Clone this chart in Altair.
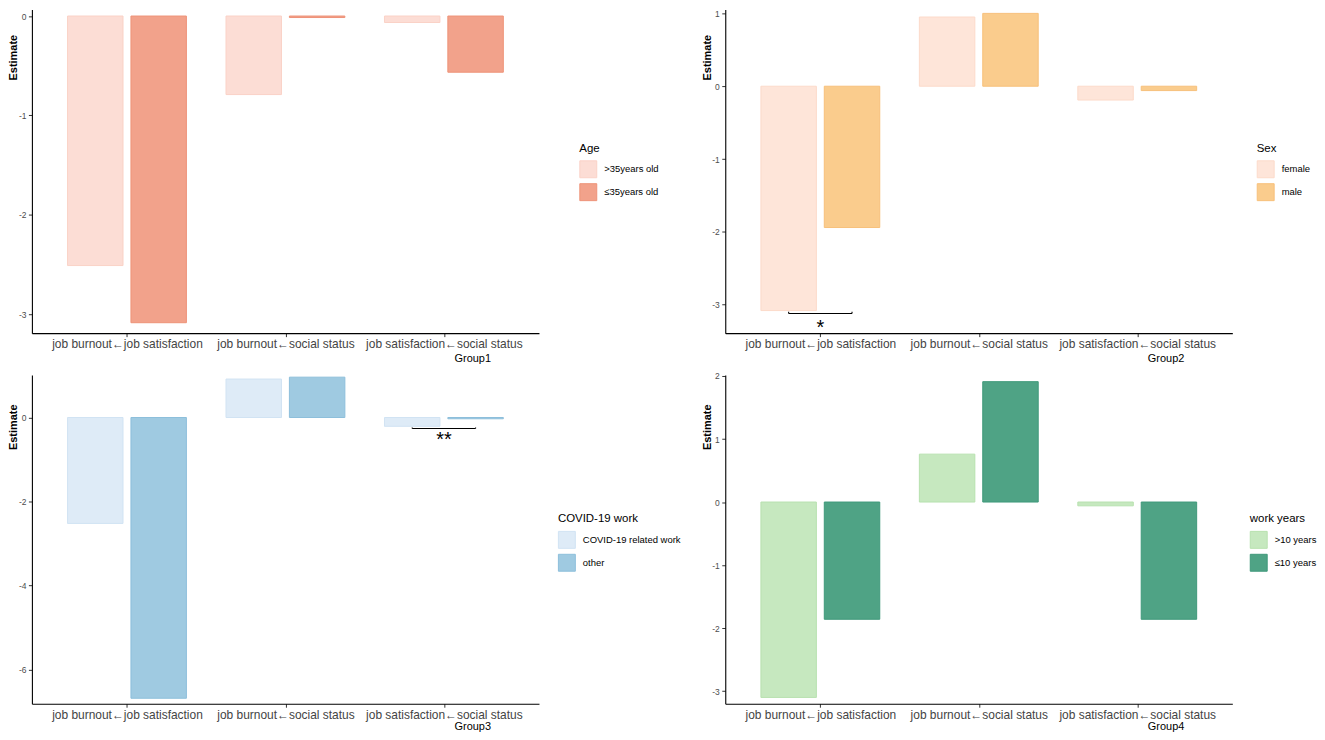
import json
import altair as alt
import pandas as pd

FONT = "Liberation Sans"

paths = ["job burnout←job satisfaction", "job burnout←social status", "job satisfaction←social status"]

age_groups = [">35years old", "≤35years old"]
age_gt35 = [-2.51, -0.79, -0.065]
age_le35 = [-3.085, -0.015, -0.565]

sex_groups = ["female", "male"]
sex_female = [-3.08, 0.95, -0.19]
sex_male = [-1.94, 1.0, -0.06]

covid_groups = ["COVID-19 related work", "other"]
covid_related = [-2.52, 0.915, -0.21]
covid_other = [-6.68, 0.96, -0.03]

work_groups = [">10 years", "≤10 years"]
work_gt10 = [-3.10, 0.76, -0.06]
work_le10 = [-1.86, 1.91, -1.86]

# significance brackets: (path index, y of bracket, label, y of label)
sex_sig = [(1, -3.12, "*", -3.26)]
covid_sig = [(3, -0.26, "**", -0.43)]

DODGE = 0.2
HALF = 0.175
label_expr = json.dumps(paths, ensure_ascii=False) + "[datum.value - 1]"


def panel(a, b, groups, fills, strokes, ydom, yticks, legend_title, group_title,
          legx, legy, height, ytitle_y, xtitle_y, sig=None):
    rows = []
    for j, vals in enumerate([a, b]):
        for i, v in enumerate(vals):
            c = (i + 1) + (j - 0.5) * 2 * DODGE
            rows.append({"x0": c - HALF, "x1": c + HALF, "val": v, "zero": 0.0,
                         "grp": groups[j]})
    df = pd.DataFrame(rows)
    leg = alt.Legend(orient="none", legendX=legx, legendY=legy, title=legend_title,
                     titleFont=FONT, titleFontSize=11.5, titleFontWeight="normal",
                     titleColor="black", titlePadding=6, labelFont=FONT,
                     labelFontSize=9.5, labelColor="black", labelOffset=7,
                     symbolType="square", symbolSize=289, symbolStrokeWidth=1,
                     rowPadding=1, padding=0, offset=0)
    xaxis = alt.Axis(values=[1, 2, 3], labelExpr=label_expr, title=group_title,
                     titleX=442, titleY=xtitle_y, titleAlign="center",
                     titleBaseline="middle", titleFont=FONT, titleFontSize=11,
                     titleFontWeight="normal", titleColor="black",
                     labelFont=FONT, labelFontSize=12, labelColor="#444444",
                     labelAngle=0, labelPadding=2, labelFlush=False, labelOverlap=False,
                     tickSize=3.5, tickColor="#333333", domainColor="black",
                     domainWidth=1.1, grid=False)
    yaxis = alt.Axis(values=yticks, labelExpr="'' + datum.value", title="Estimate",
                     titleX=-18, titleY=ytitle_y, titleAngle=270, titleAlign="center",
                     titleBaseline="middle", titleFont=FONT, titleFontSize=11,
                     titleFontWeight="bold", titleColor="black",
                     labelFont=FONT, labelFontSize=8.5, labelColor="#4D4D4D",
                     labelPadding=2.5, tickSize=3.5, tickColor="#333333",
                     domainColor="black", domainWidth=1.1, grid=False)
    xs = alt.Scale(domain=[0.4, 3.6], nice=False, zero=False)
    ys = alt.Scale(domain=ydom, nice=False, zero=False)
    bars = alt.Chart(df).mark_bar(strokeWidth=1).encode(
        x=alt.X("x0:Q", scale=xs, axis=xaxis),
        x2="x1:Q",
        y=alt.Y("val:Q", scale=ys, axis=yaxis),
        y2="zero:Q",
        color=alt.Color("grp:N", scale=alt.Scale(domain=groups, range=fills), legend=leg),
        stroke=alt.Stroke("grp:N", scale=alt.Scale(domain=groups, range=strokes), legend=leg),
    )
    layers = [bars]
    if sig:
        srows = []
        trows = []
        for (pi, by, lab, ly) in sig:
            srows.append({"bx0": pi - DODGE, "bx1": pi + DODGE, "by": by,
                          "lx": pi, "ly": ly, "lab": lab})
            for e in (pi - DODGE, pi + DODGE):
                trows.append({"tx": e, "ty0": by, "ty1": by + 0.025})
        sdf = pd.DataFrame(srows)
        tdf = pd.DataFrame(trows)
        hline = alt.Chart(sdf).mark_rule(color="black", strokeWidth=1.1).encode(
            x=alt.X("bx0:Q", scale=xs, axis=xaxis), x2="bx1:Q",
            y=alt.Y("by:Q", scale=ys, axis=yaxis))
        tips = alt.Chart(tdf).mark_rule(color="black", strokeWidth=1.1).encode(
            x=alt.X("tx:Q", scale=xs, axis=xaxis),
            y=alt.Y("ty0:Q", scale=ys, axis=yaxis), y2="ty1:Q")
        txt = alt.Chart(sdf).mark_text(font=FONT, fontSize=20, baseline="alphabetic",
                                       dy=10, color="black").encode(
            x=alt.X("lx:Q", scale=xs, axis=xaxis),
            y=alt.Y("ly:Q", scale=ys, axis=yaxis), text="lab:N")
        layers += [hline, tips, txt]
    return alt.layer(*layers).properties(width=509, height=height)


p1 = panel(age_gt35, age_le35, age_groups, ["#FCDDD5", "#F2A28B"], ["#FAD2C7", "#EE9378"],
           [-3.19, 0.067], [-3, -2, -1, 0], "Age", "Group1", 549.5, 134, 325, 48, 25)
p2 = panel(sex_female, sex_male, sex_groups, ["#FEE5D9", "#FACC8D"], ["#FCDACA", "#F7C07A"],
           [-3.39, 1.055], [-3, -2, -1, 0, 1], "Sex", "Group2", 533.5, 134, 325, 48, 25,
           sig=sex_sig)
p3 = panel(covid_related, covid_other, covid_groups, ["#DEEBF7", "#9FCAE1"], ["#D1E3F3", "#8DBFDB"],
           [-6.81, 1.012], [-6, -4, -2, 0], "COVID-19 work", "Group3", 528, 139, 330, 52, 23,
           sig=covid_sig)
p4 = panel(work_gt10, work_le10, work_groups, ["#C6E8BF", "#4FA385"], ["#B8E1AF", "#3F997A"],
           [-3.20, 2.016], [-3, -2, -1, 0, 1, 2], "work years", "Group4", 526.5, 139, 330, 52, 23)

res = dict(color="independent", stroke="independent", x="independent", y="independent")
chart = alt.concat(p1, p2, p3, p4, columns=2, spacing={"row": 42, "column": 187},
                   bounds="flush").resolve_scale(**res).properties(
    padding=0, background="white"
).configure_view(stroke=None)

chart.save("out.html", embed_options={"renderer": "svg", "actions": False})
